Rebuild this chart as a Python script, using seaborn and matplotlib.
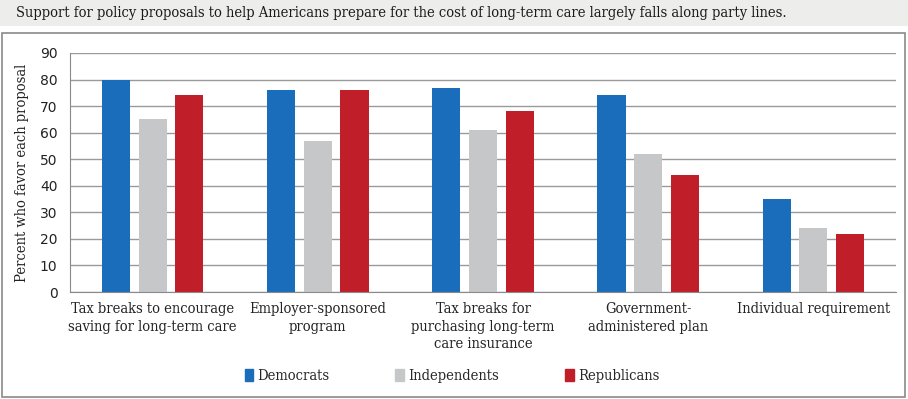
import pandas as pd
import matplotlib
matplotlib.use("Agg")
import matplotlib.pyplot as plt
import matplotlib.patches as mpatches
import seaborn as sns

# Daten aus dem Diagramm
proposals = [
    "Tax breaks to encourage\nsaving for long-term care",
    "Employer-sponsored\nprogram",
    "Tax breaks for\npurchasing long-term\ncare insurance",
    "Government-\nadministered plan",
    "Individual requirement",
]
parties = ["Democrats", "Independents", "Republicans"]
democrats = [80, 76, 77, 74, 35]
independents = [65, 57, 61, 52, 24]
republicans = [74, 76, 68, 44, 22]
farben = ["#1a6dba", "#c6c7c9", "#c01f2a"]

df = pd.DataFrame({
    "proposal": proposals * 3,
    "party": [p for p in parties for _ in proposals],
    "value": democrats + independents + republicans,
})

sns.set_style("white")
label_font = ["DejaVu Serif", "Liberation Serif"]
plt.rcParams["font.family"] = ["DejaVu Sans"]

fig = plt.figure(figsize=(9.08, 3.99), dpi=100)

# Titelleiste und Rahmen
fig.patches.append(mpatches.Rectangle((0, 1 - 26 / 399), 1, 26 / 399, transform=fig.transFigure,
                                      facecolor="#ededeb", edgecolor="none", zorder=-5))
fig.patches.append(mpatches.Rectangle((2 / 908, 2 / 399), 903 / 908, 364 / 399, transform=fig.transFigure,
                                      facecolor="white", edgecolor="#8a8a8a", linewidth=1.2, zorder=-5))
fig.text(16 / 908, 1 - 13 / 399,
         "Support for policy proposals to help Americans prepare for the cost of long-term care largely falls along party lines.",
         fontsize=10.5, va="center", ha="left", family=label_font, fontstretch="condensed", color="#1a1a1a")

ax = fig.add_axes([70 / 908, 107 / 399, 826 / 908, 239 / 399])
ax.set_zorder(2)
ax.patch.set_alpha(0)
sns.barplot(data=df, x="proposal", y="value", hue="party", palette=farben,
            width=0.665, gap=0.23, ax=ax, legend=False, saturation=1, linewidth=0)

ax.set_ylim(0, 90)
ax.set_yticks(range(0, 91, 10))
ax.set_xlim(-0.5, 4.5)
ax.yaxis.grid(True, color="#9a9a9a", linewidth=1)
ax.set_axisbelow(True)
for s in ["top", "right"]:
    ax.spines[s].set_visible(False)
for s in ["left", "bottom"]:
    ax.spines[s].set_color("#8a8a8a")
ax.tick_params(axis="y", length=5, color="#8a8a8a", labelsize=10, pad=4, labelcolor="#222222")
ax.set_xticks([i + 0.5 for i in range(-1, 5)], minor=True)
ax.tick_params(axis="x", which="minor", length=5, color="#8a8a8a")
ax.tick_params(axis="x", which="major", length=0, pad=7)
ax.set_xticklabels(proposals, family=label_font, fontstretch="condensed", fontsize=10.5,
                   va="top", linespacing=1.35, color="#222222")
ax.set_xlabel("")
ax.set_ylabel("Percent who favor each proposal", family=label_font, fontstretch="condensed",
              fontsize=10.5, color="#222222", labelpad=8)

handles = [mpatches.Patch(color=c, label=p) for c, p in zip(farben, parties)]
fig.legend(handles=handles, loc="center", bbox_to_anchor=(452 / 908, 23 / 399), ncol=3,
           frameon=False, handlelength=0.6, handleheight=0.9, handletextpad=0.3, columnspacing=4.5,
           prop={"family": label_font, "stretch": "condensed", "size": 10.5})

fig.savefig("out.png", dpi=100)
